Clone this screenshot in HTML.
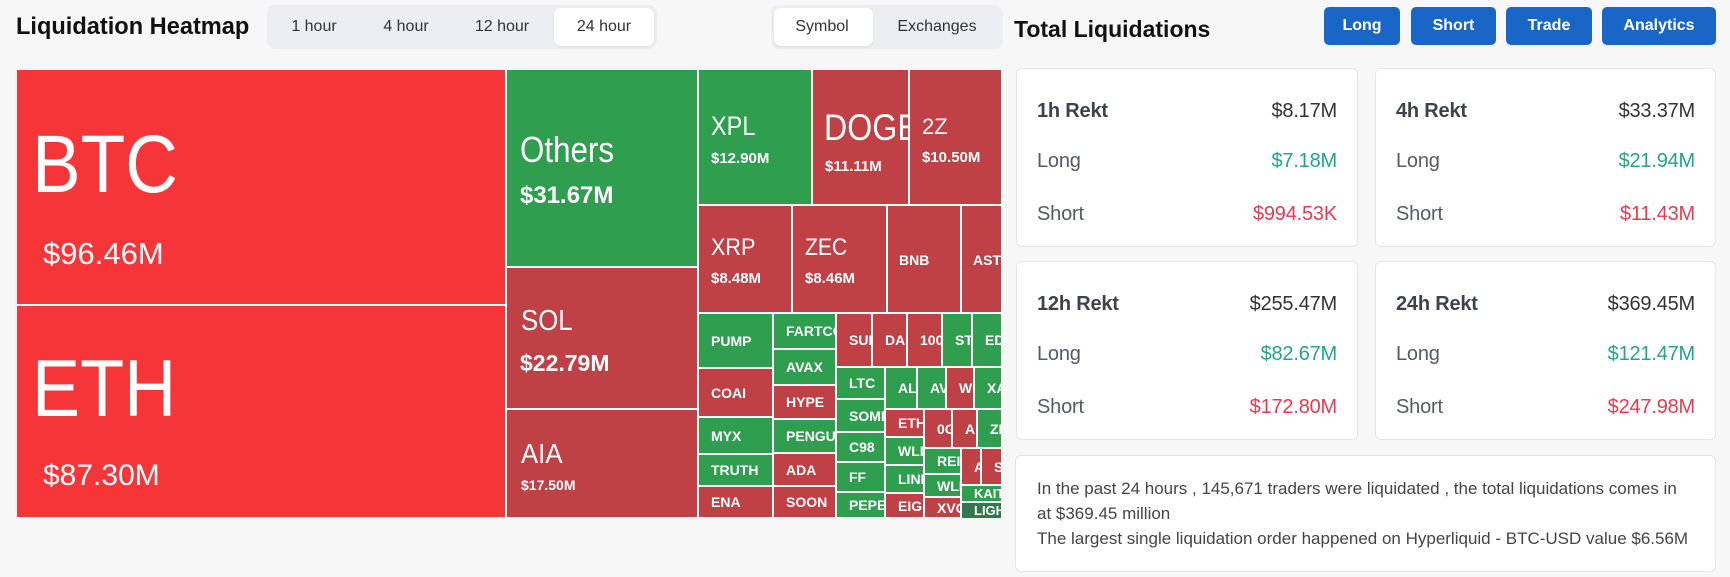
<!DOCTYPE html>
<html><head><meta charset="utf-8"><style>
body{margin:0;width:1730px;height:577px;background:#f7f7f8;position:relative;overflow:hidden;font-family:"Liberation Sans",Arial,sans-serif}
.a{position:absolute;line-height:1;white-space:nowrap}
.tm{position:absolute;left:16px;top:69px;width:986px;height:449px;background:#fff}
.c{position:absolute;overflow:hidden;color:#fff;display:flex;align-items:center;padding-left:12px;box-sizing:border-box;font-weight:bold;font-size:14px;white-space:nowrap;line-height:1}
.R{background:#bf4045}.G{background:#2f9e4f}.B{background:#f63538}.D{background:#35764e}
.n{font-weight:normal;transform-origin:0 0}
.grp{position:absolute;top:5px;height:44px;background:#eceef1;border-radius:8px}
.act{position:absolute;top:8px;height:38px;background:#fff;border-radius:7px;box-shadow:0 1px 2px rgba(0,0,0,.08)}
.tab{position:absolute;top:19px;width:120px;text-align:center;font-size:16px;color:#333;line-height:1}
.btn{position:absolute;top:7px;height:38px;background:#1a66c6;border-radius:5px;color:#fff;font-weight:bold;font-size:16px;line-height:38px;text-align:center}
.card{position:absolute;background:#fff;border:1px solid #e6e6e8;border-radius:6px;box-sizing:border-box}
.lb{position:absolute;left:20px;font-size:20px;color:#555b64;line-height:1;letter-spacing:-0.2px}
.lb.h{font-weight:bold;color:#3e434b}
.vl{position:absolute;right:20px;font-size:20px;color:#333;line-height:1;letter-spacing:-0.2px}
.gr{color:#1fa58a}.rd{color:#e8394f}
</style></head><body>

<div class="a" style="left:16px;top:16px;font-size:23.6px;font-weight:bold;color:#111">Liquidation Heatmap</div>

<div class="grp" style="left:267px;width:390px"></div>
<div class="act" style="left:554px;width:100px"></div>
<div class="tab" style="left:254px">1 hour</div>
<div class="tab" style="left:346px">4 hour</div>
<div class="tab" style="left:442px">12 hour</div>
<div class="tab" style="left:544px">24 hour</div>

<div class="grp" style="left:771px;width:232px"></div>
<div class="act" style="left:774px;width:99px"></div>
<div class="tab" style="left:762px">Symbol</div>
<div class="tab" style="left:877px">Exchanges</div>

<div class="tm"></div>
<!-- big cells -->
<div class="c B" style="left:17px;top:70px;width:488px;height:234px">
  <div class="a n" style="left:15px;top:53.6px;font-size:82px;transform:scaleX(.89)">BTC</div>
  <div class="a" style="left:26px;top:167.8px;font-size:31px;font-weight:normal">$96.46M</div>
</div>
<div class="c B" style="left:17px;top:306px;width:488px;height:211px">
  <div class="a n" style="left:15px;top:43.4px;font-size:81px;transform:scaleX(.89)">ETH</div>
  <div class="a" style="left:26px;top:154.6px;font-size:30px;font-weight:normal">$87.30M</div>
</div>
<div class="c G" style="left:507px;top:70px;width:190px;height:196px">
  <div class="a n" style="left:13px;top:61.5px;font-size:36px;transform:scaleX(.87)">Others</div>
  <div class="a" style="left:13px;top:113.7px;font-size:24px">$31.67M</div>
</div>
<div class="c R" style="left:507px;top:268px;width:190px;height:140px">
  <div class="a n" style="left:14px;top:39px;font-size:29px;transform:scaleX(.89)">SOL</div>
  <div class="a" style="left:13px;top:83.5px;font-size:23px">$22.79M</div>
</div>
<div class="c R" style="left:507px;top:410px;width:190px;height:107px">
  <div class="a n" style="left:14px;top:30.3px;font-size:28px;transform:scaleX(.92)">AIA</div>
  <div class="a" style="left:14px;top:67.6px;font-size:14px">$17.50M</div>
</div>
<div class="c G" style="left:699px;top:70px;width:112px;height:134px">
  <div class="a n" style="left:12px;top:43px;font-size:27px;transform:scaleX(.87)">XPL</div>
  <div class="a" style="left:12px;top:80.6px;font-size:15px">$12.90M</div>
</div>
<div class="c R" style="left:813px;top:70px;width:95px;height:134px">
  <div class="a n" style="left:11px;top:38.7px;font-size:37px;transform:scaleX(.87)">DOGE</div>
  <div class="a" style="left:12px;top:89px;font-size:15px">$11.11M</div>
</div>
<div class="c R" style="left:910px;top:70px;width:91px;height:134px">
  <div class="a n" style="left:12px;top:46.4px;font-size:22px">2Z</div>
  <div class="a" style="left:12px;top:80px;font-size:15px">$10.50M</div>
</div>
<div class="c R" style="left:699px;top:206px;width:92px;height:106px">
  <div class="a n" style="left:12px;top:30.4px;font-size:24px;transform:scaleX(.9)">XRP</div>
  <div class="a" style="left:12px;top:65.3px;font-size:15px">$8.48M</div>
</div>
<div class="c R" style="left:793px;top:206px;width:93px;height:106px">
  <div class="a n" style="left:12px;top:30.4px;font-size:24px;transform:scaleX(.88)">ZEC</div>
  <div class="a" style="left:12px;top:65.3px;font-size:15px">$8.46M</div>
</div>
<div class="c R" style="left:888px;top:206px;width:72px;height:106px">
  <div class="a" style="left:11px;top:47px;font-size:14px">BNB</div>
</div>
<div class="c R" style="left:962px;top:206px;width:39px;height:106px">
  <div class="a" style="left:11px;top:47px;font-size:14px">AST</div>
</div>

<!-- small cells -->
<div class="c G" style="left:699px;top:314px;width:73px;height:53px">PUMP</div>
<div class="c R" style="left:699px;top:369px;width:73px;height:47px">COAI</div>
<div class="c G" style="left:699px;top:418px;width:73px;height:35px">MYX</div>
<div class="c G" style="left:699px;top:455px;width:73px;height:30px">TRUTH</div>
<div class="c R" style="left:699px;top:487px;width:73px;height:30px">ENA</div>
<div class="c G" style="left:774px;top:314px;width:61px;height:34px">FARTCOIN</div>
<div class="c G" style="left:774px;top:350px;width:61px;height:34px">AVAX</div>
<div class="c R" style="left:774px;top:386px;width:61px;height:32px">HYPE</div>
<div class="c G" style="left:774px;top:420px;width:61px;height:32px">PENGU</div>
<div class="c R" style="left:774px;top:454px;width:61px;height:31px">ADA</div>
<div class="c R" style="left:774px;top:487px;width:61px;height:30px">SOON</div>
<div class="c R" style="left:837px;top:314px;width:34px;height:52px">SUI</div>
<div class="c R" style="left:873px;top:314px;width:33px;height:52px">DASH</div>
<div class="c R" style="left:908px;top:314px;width:33px;height:52px">1000BONK</div>
<div class="c G" style="left:943px;top:314px;width:28px;height:52px">STRK</div>
<div class="c G" style="left:973px;top:314px;width:28px;height:52px">EDEN</div>
<div class="c G" style="left:837px;top:368px;width:47px;height:30px">LTC</div>
<div class="c G" style="left:837px;top:400px;width:47px;height:31px">SOMI</div>
<div class="c G" style="left:837px;top:433px;width:47px;height:28px">C98</div>
<div class="c G" style="left:837px;top:463px;width:47px;height:28px">FF</div>
<div class="c G" style="left:837px;top:493px;width:47px;height:24px">PEPE</div>
<div class="c G" style="left:886px;top:368px;width:30px;height:40px">ALT</div>
<div class="c G" style="left:918px;top:368px;width:27px;height:40px">AVNT</div>
<div class="c R" style="left:947px;top:368px;width:26px;height:40px">WIF</div>
<div class="c G" style="left:975px;top:368px;width:26px;height:40px">XAI</div>
<div class="c R" style="left:886px;top:410px;width:37px;height:26px">ETHFI</div>
<div class="c G" style="left:886px;top:438px;width:37px;height:26px">WLD</div>
<div class="c G" style="left:886px;top:466px;width:37px;height:26px">LINK</div>
<div class="c R" style="left:886px;top:494px;width:37px;height:23px">EIGEN</div>
<div class="c R" style="left:925px;top:410px;width:26px;height:37px">0G</div>
<div class="c R" style="left:953px;top:410px;width:23px;height:37px">AI</div>
<div class="c G" style="left:978px;top:410px;width:23px;height:37px">ZK</div>
<div class="c G" style="left:925px;top:449px;width:35px;height:24px">REI</div>
<div class="c G" style="left:925px;top:475px;width:35px;height:21px">WLFI</div>
<div class="c R" style="left:925px;top:498px;width:35px;height:19px">XVG</div>
<div class="c R" style="left:962px;top:449px;width:18px;height:35px">AR</div>
<div class="c R" style="left:982px;top:449px;width:19px;height:35px">SEI</div>
<div class="c G" style="left:962px;top:486px;width:39px;height:15px;font-size:13px">KAITO</div>
<div class="c D" style="left:962px;top:503px;width:39px;height:15px;font-size:13px">LIGHT</div>

<!-- right panel -->
<div class="a" style="left:1014px;top:17.5px;font-size:23px;font-weight:bold;color:#111">Total Liquidations</div>
<div class="btn" style="left:1324px;width:76px">Long</div>
<div class="btn" style="left:1411px;width:85px">Short</div>
<div class="btn" style="left:1506px;width:86px">Trade</div>
<div class="btn" style="left:1602px;width:114px">Analytics</div>

<div class="card" style="left:1016px;top:68px;width:342px;height:179px">
  <div class="lb h" style="top:32px">1h Rekt</div><div class="vl" style="top:32px">$8.17M</div>
  <div class="lb" style="top:82px">Long</div><div class="vl gr" style="top:82px">$7.18M</div>
  <div class="lb" style="top:135px">Short</div><div class="vl rd" style="top:135px">$994.53K</div>
</div>
<div class="card" style="left:1375px;top:68px;width:341px;height:179px">
  <div class="lb h" style="top:32px">4h Rekt</div><div class="vl" style="top:32px">$33.37M</div>
  <div class="lb" style="top:82px">Long</div><div class="vl gr" style="top:82px">$21.94M</div>
  <div class="lb" style="top:135px">Short</div><div class="vl rd" style="top:135px">$11.43M</div>
</div>
<div class="card" style="left:1016px;top:261px;width:342px;height:179px">
  <div class="lb h" style="top:32px">12h Rekt</div><div class="vl" style="top:32px">$255.47M</div>
  <div class="lb" style="top:82px">Long</div><div class="vl gr" style="top:82px">$82.67M</div>
  <div class="lb" style="top:135px">Short</div><div class="vl rd" style="top:135px">$172.80M</div>
</div>
<div class="card" style="left:1375px;top:261px;width:341px;height:179px">
  <div class="lb h" style="top:32px">24h Rekt</div><div class="vl" style="top:32px">$369.45M</div>
  <div class="lb" style="top:82px">Long</div><div class="vl gr" style="top:82px">$121.47M</div>
  <div class="lb" style="top:135px">Short</div><div class="vl rd" style="top:135px">$247.98M</div>
</div>
<div class="card" style="left:1015px;top:455px;width:701px;height:117px">
  <div style="position:absolute;left:21px;top:20px;font-size:17px;line-height:25px;color:#444;white-space:nowrap">In the past 24 hours , 145,671 traders were liquidated , the total liquidations comes in<br>at $369.45 million<br>The largest single liquidation order happened on Hyperliquid - BTC-USD value $6.56M</div>
</div>
</body></html>
